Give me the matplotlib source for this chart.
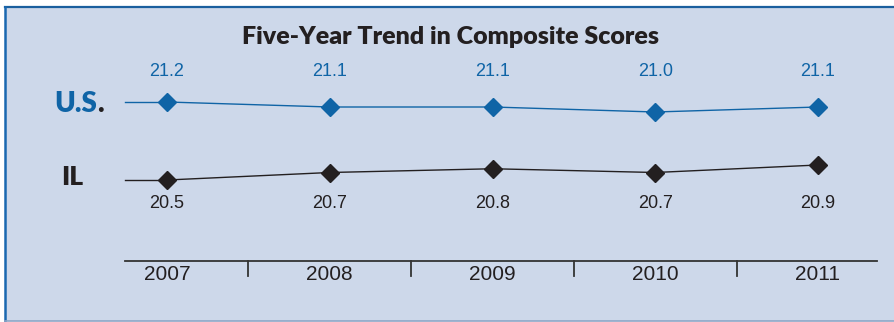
"""Five-year trend in composite scores, U.S. vs IL."""

import matplotlib.pyplot as plt
from matplotlib.patches import Rectangle
from matplotlib.transforms import blended_transform_factory

years = [2007, 2008, 2009, 2010, 2011]
us_scores = [21.2, 21.1, 21.1, 21.0, 21.1]
il_scores = [20.5, 20.7, 20.8, 20.7, 20.9]
title = "Five-Year Trend in Composite Scores"

BG = "#cdd8ea"
BLUE = "#0f64a6"
DARK = "#231f20"
W, H = 895, 322

fig = plt.figure(figsize=(W / 100, H / 100), dpi=100)
fig.patch.set_facecolor("white")

# panel box with blue top/left border
fig.patches.append(Rectangle((5 / W, 1 / H), 1, (H - 8) / H, transform=fig.transFigure,
                             facecolor=BG, edgecolor="none", zorder=-5))
fig.add_artist(plt.Line2D([5 / W, 1], [(H - 7) / H] * 2, color="#1a5f9e", lw=1.6))
fig.add_artist(plt.Line2D([5 / W] * 2, [1 / H, (H - 7) / H], color="#1a68b0", lw=1.8))
fig.add_artist(plt.Line2D([5 / W, 1], [1 / H] * 2, color="#8ea6c6", lw=1.2))

# x: 2007 sits at 167px, 2011 at 818px
step = (818 - 167) / (len(years) - 1)
x0 = years[0] - 167 / step
x1 = years[-1] + (W - 818) / step
lead = years[0] - 42 / step

ax = fig.add_axes([0, 0, 1, 1], zorder=1)
ax.set_xlim(x0, x1)
ax.set_ylim(0, H)
ax.axis("off")

# separate vertical scales for each series
ax_us = ax.twinx()
ax_us.set_ylim(21.2 - 220 / 50, 21.2 + 102 / 50)
ax_il = ax.twinx()
ax_il.set_ylim(20.5 - 142 / 37.5, 20.5 + 180 / 37.5)
for a in (ax_us, ax_il):
    a.set_xlim(x0, x1)
    a.axis("off")

ax_us.plot([lead, years[0]], [us_scores[0]] * 2, color=BLUE, lw=1.0)
ax_us.plot(years, us_scores, color=BLUE, lw=1.0, marker="D", ms=9.5,
           mfc=BLUE, mec=BLUE)
ax_il.plot([lead, years[0]], [il_scores[0]] * 2, color=DARK, lw=1.0)
ax_il.plot(years, il_scores, color=DARK, lw=1.0, marker="D", ms=9.5,
           mfc=DARK, mec=DARK)

trans = blended_transform_factory(ax.transData, fig.transFigure)
for yr, us, il in zip(years, us_scores, il_scores):
    ax.text(yr, 1 - 72 / H, f"{us:.1f}", transform=trans, ha="center", va="center",
            color=BLUE, fontsize=13, family="Liberation Sans")
    ax.text(yr, 1 - 204 / H, f"{il:.1f}", transform=trans, ha="center", va="center",
            color=DARK, fontsize=13, family="Liberation Sans")
    ax.text(yr, 1 - 274 / H, str(yr), transform=trans, ha="center", va="center",
            color=DARK, fontsize=15, family="Liberation Sans")

# year axis with separators between years
ax.plot([years[0] - 42 / step, years[-1] + 59 / step], [H - 261] * 2,
        color="#333333", lw=1.3)
for a, b in zip(years[:-1], years[1:]):
    ax.plot([(a + b) / 2] * 2, [H - 261, H - 276], color="#333333", lw=1.3)

fig.text(451 / W, 1 - 37 / H, title, ha="center", va="center", fontsize=18,
         fontweight="heavy", family="Lato", color=DARK)
fig.text(97 / W, 1 - 104 / H, "U.S", ha="right", va="center", fontsize=20,
         fontweight="heavy", family="Lato", color=BLUE)
fig.text(97 / W, 1 - 104 / H, ".", ha="left", va="center", fontsize=20,
         fontweight="heavy", family="Lato", color=DARK)
fig.text(72 / W, 1 - 177 / H, "IL", ha="center", va="center", fontsize=19,
         fontweight="heavy", family="Lato", color=DARK)

fig.savefig("out.png", dpi=100)
